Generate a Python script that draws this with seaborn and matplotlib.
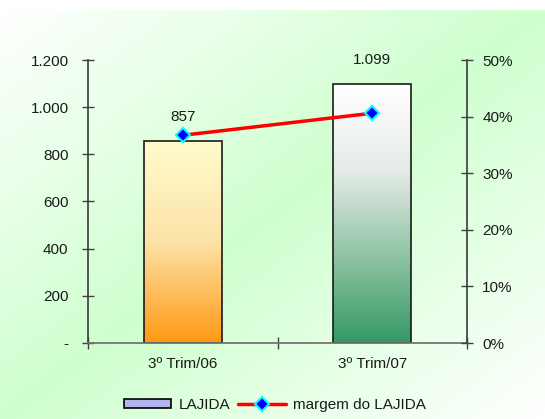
import numpy as np
import pandas as pd
import matplotlib
matplotlib.use("Agg")
import matplotlib.pyplot as plt
from matplotlib.colors import LinearSegmentedColormap
from matplotlib.ticker import FuncFormatter, FixedLocator
from matplotlib.patches import Patch
from matplotlib.lines import Line2D
import seaborn as sns

categories = ["3º Trim/06", "3º Trim/07"]
lajida = [857, 1099]
margem = [36.7, 40.6]
lajida_labels = ["857", "1.099"]

sns.set_theme(style="white")
plt.rcParams["font.family"] = ["Liberation Sans", "DejaVu Sans"]

W, H = 545, 419
fig = plt.figure(figsize=(W / 100, H / 100), dpi=100)
fig.patch.set_facecolor("white")

# background gradient (diagonal: white corners TL/BR, green along anti-diagonal)
bg = fig.add_axes([0, 0, 1, 1 - 10 / H], zorder=-10)
gx, gy = np.meshgrid(np.linspace(0, 1, 300), np.linspace(0, 1, 300))
t = (gx + gy) / 2
f = 1 - np.abs(2 * t - 1)
green = np.array([0.81, 1.0, 0.81])
img = (1 - f[..., None]) * np.array([1.0, 1.0, 1.0]) + f[..., None] * green
bg.imshow(img, aspect="auto", extent=[0, 1, 0, 1], origin="upper")
bg.axis("off")

ax = fig.add_axes([88 / W, 1 - 343 / H, (467 - 88) / W, (343 - 60) / H])
ax.patch.set_alpha(0)

df = pd.DataFrame({"cat": categories, "val": lajida})
sns.barplot(data=df, x="cat", y="val", ax=ax, width=0.41, edgecolor="#1a1a1a",
            linewidth=1.2, color="white", saturation=1)
ax.set_ylim(0, 1200)
ax.set_xlim(-0.5, 1.5)

cmaps = [
    LinearSegmentedColormap.from_list("o", ["#ff9914", "#fde3a8", "#fffccc"]),
    LinearSegmentedColormap.from_list("g", ["#339966", "#8fc4a3", "#e6ebe8", "#ffffff"]),
]
for p, cm in zip(ax.patches, cmaps):
    x0, y0 = p.get_x(), p.get_y()
    w, h = p.get_width(), p.get_height()
    grad = np.linspace(0, 1, 256).reshape(-1, 1)
    im = ax.imshow(grad, cmap=cm, aspect="auto", origin="lower",
                   extent=[x0, x0 + w, y0, y0 + h], zorder=p.get_zorder() - 0.1)
    im.set_clip_path(p)
    p.set_facecolor("none")
ax.set_xlim(-0.5, 1.5)
ax.set_ylim(0, 1200)

for i, (v, lab) in enumerate(zip(lajida, lajida_labels)):
    ax.text(i, v + 100, lab, ha="center", va="center", fontsize=11, color="#1a1a1a")

ax.yaxis.set_major_locator(FixedLocator(np.arange(0, 1201, 200)))
ax.yaxis.set_major_formatter(FuncFormatter(
    lambda v, p: "-" if v == 0 else f"{v:,.0f}".replace(",", ".")))
ax.set_xticks([0, 1])
ax.set_xticklabels(categories)
ax.set_xticks([-0.5, 0.5, 1.5], minor=True)
ax.tick_params(axis="x", which="major", length=0, pad=10, labelsize=11, colors="#1a1a1a")
ax.tick_params(axis="x", which="minor", direction="inout", length=8, width=1, color="#404040", bottom=True)
ax.tick_params(axis="y", which="major", direction="inout", length=8, width=1,
               color="#404040", left=True, labelsize=11, labelcolor="#1a1a1a", pad=10)
ax.set_xlabel("")
ax.set_ylabel("")
for s in ["top", "right"]:
    ax.spines[s].set_visible(False)
ax.spines["left"].set_color("#404040")
ax.spines["bottom"].set_color("#707070")

ax2 = ax.twinx()
sns.lineplot(x=[0, 1], y=margem, ax=ax2, color="#ff0000", linewidth=2.5,
             marker="D", markersize=7, markerfacecolor="#0000ff",
             markeredgecolor="#00ffff", markeredgewidth=1.5, zorder=5)
ax2.set_ylim(0, 50)
ax2.set_xlim(-0.5, 1.5)
ax2.yaxis.set_major_locator(FixedLocator(np.arange(0, 51, 10)))
ax2.yaxis.set_major_formatter(FuncFormatter(lambda v, p: f"{v:.0f}%"))
ax2.tick_params(axis="y", which="major", direction="inout", length=8, width=1,
                color="#404040", right=True, labelsize=11, labelcolor="#1a1a1a", pad=7)
for s in ["top", "left", "bottom"]:
    ax2.spines[s].set_visible(False)
ax2.spines["right"].set_color("#404040")
ax2.set_ylabel("")
ax2.patch.set_alpha(0)

handles = [
    Patch(facecolor="#b3b3f0", edgecolor="black", linewidth=1.2),
    Line2D([0], [0], color="#ff0000", linewidth=2.5, marker="D", markersize=7,
           markerfacecolor="#0000ff", markeredgecolor="#00ffff", markeredgewidth=1.5),
]
fig.legend(handles, ["LAJIDA", "margem do LAJIDA"], loc="center",
           bbox_to_anchor=(275 / W, 1 - 405 / H), ncol=2, frameon=False,
           fontsize=11, handlelength=3.1, handleheight=0.55, columnspacing=0.5,
           handletextpad=0.5, labelcolor="#1a1a1a")

fig.savefig("out.png", dpi=100)
